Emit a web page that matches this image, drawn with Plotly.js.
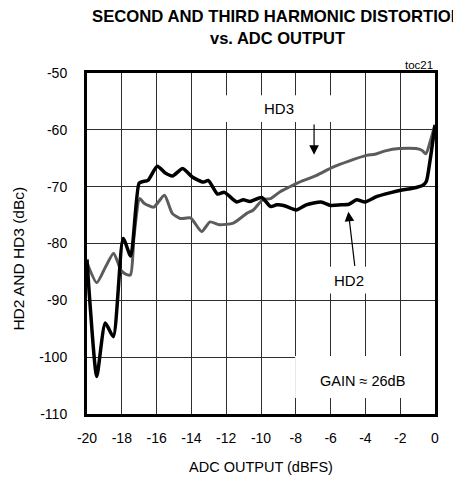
<!DOCTYPE html>
<html>
<head>
<meta charset="utf-8">
<script src="https://cdn.plot.ly/plotly-3.0.1.min.js"></script>
<style>
html,body{margin:0;padding:0;background:#fff;}
#chart{width:453px;height:481px;}
</style>
</head>
<body>
<div id="chart"></div>
<script>
// ---- data ----
const hd2X = [-20, -19.83, -19.44, -18.95, -18.49, -17.92, -17.49, -17.01, -16.8, -16.5, -15.96, -15.5, -15.08, -14.5, -13.95, -13.3, -13.03, -12.5, -12.1, -11.4, -11.02, -10.63, -9.96, -9.45, -9.1, -8.7, -7.97, -7.4, -6.55, -6.0, -5.4, -4.95, -4.5, -4.02, -3.4, -2.6, -1.9, -1.3, -0.72, -0.5, -0.28, 0];
const hd2Y = [-82.8, -90.5, -103.4, -94.0, -96.4, -79.1, -82.2, -69.4, -69.1, -68.9, -66.4, -67.6, -68.1, -66.8, -68.3, -69.2, -68.9, -71.3, -71.0, -72.7, -72.3, -72.6, -71.9, -73.5, -73.2, -73.3, -74.1, -73.2, -72.7, -73.3, -73.2, -73.1, -72.3, -72.7, -71.8, -71.1, -70.6, -70.3, -69.8, -69.1, -65.3, -59.2];

const hd3X = [-20, -19.44, -18.93, -18.47, -18.05, -17.78, -17.5, -17.3, -16.97, -16.72, -16.17, -15.55, -15.1, -14.65, -14.05, -13.41, -12.93, -12.4, -11.59, -10.82, -10.44, -9.9, -9.45, -8.9, -8.4, -7.95, -6.8, -5.9, -4.95, -3.93, -3.45, -2.85, -2.05, -1.1, -0.76, -0.52, -0.28, 0];
const hd3Y = [-83.4, -86.9, -84.1, -81.7, -84.7, -85.4, -85.5, -78.8, -72.1, -72.9, -73.6, -71.5, -74.7, -75.6, -75.5, -77.9, -76.2, -76.7, -76.4, -74.7, -74.1, -72.3, -72.1, -70.9, -70.1, -69.4, -68.0, -66.6, -65.5, -64.5, -64.3, -63.7, -63.3, -63.3, -63.6, -64.2, -62.1, -59.1];

const xTickVals = [-20, -18, -16, -14, -12, -10, -8, -6, -4, -2, 0];
const xTickText = ["-20", "-18", "-16", "-14", "-12", "-10", "-8", "-6", "-4", "-2", "0"];
const yTickVals = [-110, -100, -90, -80, -70, -60, -50];
const yTickText = ["-110", "-100", "-90", "-80", "-70", "-60", "-50"];

const titleLine1 = "SECOND AND THIRD HARMONIC DISTORTION";
const titleLine2 = "vs. ADC OUTPUT";
const xTitle = "ADC OUTPUT (dBFS)";
const yTitle = "HD2 AND HD3 (dBc)";
const seriesNames = ["HD2", "HD3"];
const gainText = "GAIN ≈ 26dB";
const tocText = "toc21";

// ---- drawing ----
const FONT = "'Liberation Sans', Arial, Helvetica, sans-serif";

const traces = [
  {x: hd3X, y: hd3Y, name: seriesNames[1], type: 'scatter', mode: 'lines',
   line: {color: '#5c5c5c', width: 3, shape: 'spline', smoothing: 0.6}},
  {x: hd2X, y: hd2Y, name: seriesNames[0], type: 'scatter', mode: 'lines',
   line: {color: '#000000', width: 3.5, shape: 'spline', smoothing: 0.6}}
];

const layout = {
  width: 453, height: 481,
  margin: {l: 87, r: 18, t: 73, b: 67, pad: 0},
  paper_bgcolor: '#fff', plot_bgcolor: '#fff',
  showlegend: false,
  font: {family: FONT, color: '#000', size: 14},
  xaxis: {
    range: [-20, 0], tickvals: xTickVals, ticktext: xTickText,
    showgrid: true, gridcolor: '#2e2e2e', gridwidth: 1,
    zeroline: false, showline: true, linecolor: '#000', linewidth: 3, mirror: true,
    ticks: '', tickfont: {family: FONT, size: 14, color: '#000'},
    ticklabelstandoff: 9, fixedrange: true
  },
  yaxis: {
    range: [-110, -50], tickvals: yTickVals, ticktext: yTickText,
    showgrid: true, gridcolor: '#2e2e2e', gridwidth: 1,
    zeroline: false, showline: true, linecolor: '#000', linewidth: 3, mirror: true,
    ticks: '', tickfont: {family: FONT, size: 14, color: '#000'},
    ticklabelstandoff: 14, fixedrange: true
  },
  shapes: [
    {type: 'rect', xref: 'x', yref: 'y', x0: -12.5, x1: -5.5, y0: -53.9, y1: -58.6,
     fillcolor: '#fff', line: {width: 0}, layer: 'between'},
    {type: 'rect', xref: 'x', yref: 'y', x0: -6.3, x1: -3.7, y0: -84.1, y1: -88.8,
     fillcolor: '#fff', line: {width: 0}, layer: 'between'},
    {type: 'rect', xref: 'x', yref: 'y', x0: -8.04, x1: 0, y0: -99.8, y1: -107.2,
     fillcolor: '#fff', line: {width: 0}, layer: 'between'}
  ],
  annotations: [
    {xref: 'paper', yref: 'paper', x: 0.546, y: 1.166, text: '<b>' + titleLine1 + '</b>',
     showarrow: false, xanchor: 'center', yanchor: 'middle',
     font: {family: FONT, size: 16.7, color: '#000'}},
    {xref: 'paper', yref: 'paper', x: 0.546, y: 1.102, text: '<b>' + titleLine2 + '</b>',
     showarrow: false, xanchor: 'center', yanchor: 'middle',
     font: {family: FONT, size: 16.5, color: '#000'}},
    {xref: 'paper', yref: 'paper', x: 1, y: 1.0, text: tocText, showarrow: false,
     xanchor: 'right', yanchor: 'bottom', font: {family: FONT, size: 11.5, color: '#000'}},
    {xref: 'paper', yref: 'paper', x: 0.5, y: -0.155, text: xTitle, showarrow: false,
     xanchor: 'center', yanchor: 'middle', font: {family: FONT, size: 14.5, color: '#000'}},
    {xref: 'paper', yref: 'paper', x: -0.197, y: 0.457, text: yTitle, showarrow: false,
     textangle: -90, xanchor: 'center', yanchor: 'middle', font: {family: FONT, size: 15.5, color: '#000'}},
    {xref: 'x', yref: 'y', x: -8.98, y: -56.3, text: seriesNames[1], showarrow: false,
     font: {family: FONT, size: 15, color: '#000'}},
    {xref: 'x', yref: 'y', x: -4.94, y: -86.5, text: seriesNames[0], showarrow: false,
     font: {family: FONT, size: 15, color: '#000'}},
    {xref: 'x', yref: 'y', x: -4.14, y: -104.2, text: gainText, showarrow: false,
     font: {family: FONT, size: 14.5, color: '#000'}},
    {xref: 'x', yref: 'y', axref: 'x', ayref: 'y', x: -6.95, y: -64.4, ax: -6.95, ay: -58.8,
     text: '', showarrow: true, arrowhead: 2, arrowsize: 1.6, arrowwidth: 1.2, arrowcolor: '#000', standoff: 0},
    {xref: 'x', yref: 'y', axref: 'x', ayref: 'y', x: -4.98, y: -74.4, ax: -4.6, ay: -84.2,
     text: '', showarrow: true, arrowhead: 2, arrowsize: 1.6, arrowwidth: 1.2, arrowcolor: '#000', standoff: 0}
  ]
};

Plotly.newPlot('chart', traces, layout, {staticPlot: true, displayModeBar: false});
</script>
</body>
</html>
